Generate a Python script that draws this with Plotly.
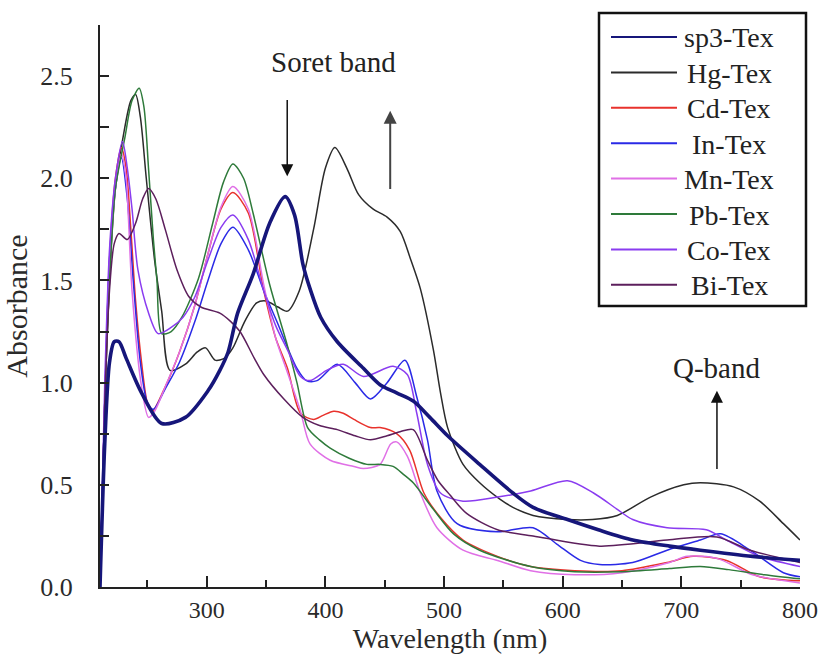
import plotly.graph_objects as go

# UV-Vis absorption spectra of the free ligand and its metal complexes
names = ["sp3-Tex", "Hg-Tex", "Cd-Tex", "In-Tex", "Mn-Tex", "Pb-Tex", "Co-Tex", "Bi-Tex"]
colors = ["#16167a", "#2b2b2b", "#e8322c", "#2a2ae6", "#e070e6", "#2e7a3a", "#8a3cf0", "#5c1f5c"]
widths = [3.6, 1.5, 1.5, 1.5, 1.5, 1.5, 1.5, 1.5]

wl_sp3 = [210, 214, 218, 222, 226, 232, 245, 262, 282, 301, 311, 318, 326, 339, 353, 366, 374,
          381, 387, 396, 410, 432, 446, 460, 474, 488, 503, 530, 558, 575, 604, 630, 659, 690,
          716, 760, 800]
ab_sp3 = [0.0, 0.7, 1.1, 1.2, 1.2, 1.12, 0.95, 0.80, 0.83, 0.96, 1.06, 1.15, 1.34, 1.53, 1.78,
          1.91, 1.82, 1.58, 1.46, 1.32, 1.20, 1.07, 0.99, 0.95, 0.91, 0.83, 0.74, 0.60, 0.46,
          0.39, 0.33, 0.28, 0.23, 0.20, 0.18, 0.15, 0.13]

wl_hg = [210, 214, 218, 223, 230, 236, 240, 244, 249, 256, 262, 269, 282, 292, 299, 307, 315,
         322, 332, 342, 350, 360, 368, 378, 390, 400, 408, 418, 428, 440, 452, 463, 472, 480,
         491, 497, 503, 516, 530, 547, 558, 575, 604, 625, 646, 674, 702, 716, 744, 766, 786, 800]
ab_hg = [0.0, 0.9, 1.5, 1.95, 2.22, 2.38, 2.41, 2.3, 2.0, 1.6, 1.35, 1.06, 1.09, 1.15, 1.17,
         1.11, 1.12, 1.17, 1.3, 1.39, 1.40, 1.37, 1.35, 1.45, 1.75, 2.05, 2.15, 2.05, 1.92,
         1.85, 1.81, 1.74, 1.6, 1.46, 1.16, 0.95, 0.78, 0.60, 0.51, 0.43, 0.39, 0.35, 0.33,
         0.33, 0.35, 0.44, 0.50, 0.51, 0.49, 0.42, 0.31, 0.23]

wl_cd = [210, 214, 218, 223, 228, 232, 236, 240, 245, 250, 254, 265, 277, 290, 301, 312, 322,
         335, 348, 358, 368, 379, 390, 398, 407, 415, 424, 438, 446, 460, 471, 483, 497, 516,
         545, 573, 610, 650, 688, 710, 738, 766, 800]
ab_cd = [0.0, 0.9, 1.6, 2.0, 2.15, 2.05, 1.75, 1.4, 1.1, 0.9, 0.86, 0.98, 1.15, 1.38, 1.63,
         1.85, 1.93, 1.83, 1.45, 1.22, 1.07, 0.85, 0.82, 0.84, 0.86, 0.85, 0.82, 0.78, 0.78,
         0.75, 0.67, 0.46, 0.34, 0.23, 0.15, 0.10, 0.08, 0.08, 0.12, 0.15, 0.13, 0.05, 0.03]

wl_in = [210, 214, 218, 223, 228, 233, 238, 244, 250, 255, 265, 277, 290, 301, 312, 322, 335,
         348, 359, 376, 384, 393, 410, 425, 438, 452, 467, 477, 486, 494, 511, 545, 575, 595,
         615, 631, 659, 688, 716, 733, 758, 786, 800]
ab_in = [0.0, 0.9, 1.6, 1.95, 2.1, 1.9, 1.5, 1.1, 0.9, 0.87, 0.97, 1.1, 1.3, 1.5, 1.68, 1.76,
         1.65, 1.45, 1.30, 1.07, 1.01, 1.01, 1.09, 1.0, 0.92, 1.0, 1.11, 0.93, 0.72, 0.47,
         0.31, 0.27, 0.29, 0.21, 0.13, 0.11, 0.12, 0.18, 0.23, 0.26, 0.18, 0.07, 0.05]

wl_mn = [210, 214, 218, 223, 228, 232, 234, 237, 245, 251, 256, 265, 277, 290, 301, 312, 322,
         335, 348, 358, 368, 379, 387, 404, 424, 432, 446, 455, 460, 469, 480, 494, 516, 545,
         573, 610, 650, 690, 705, 730, 760, 800]
ab_mn = [0.0, 0.9, 1.55, 1.95, 2.12, 2.0, 1.8, 1.45, 0.98, 0.83, 0.86, 0.98, 1.15, 1.38, 1.63,
         1.86, 1.96, 1.85, 1.48, 1.22, 1.05, 0.86, 0.70, 0.62, 0.59, 0.58, 0.60, 0.70, 0.71,
         0.64, 0.46, 0.29, 0.18, 0.13, 0.08, 0.06, 0.07, 0.12, 0.15, 0.14, 0.06, 0.02]

wl_pb = [210, 214, 218, 223, 231, 237, 243, 247, 251, 255, 258, 262, 270, 279, 293, 305, 314,
         322, 331, 339, 353, 368, 376, 385, 395, 404, 420, 435, 446, 457, 466, 474, 491, 508,
         530, 573, 610, 650, 690, 716, 740, 770, 800]
ab_pb = [0.0, 0.9, 1.5, 1.95, 2.2, 2.38, 2.44, 2.35, 2.04, 1.7, 1.5, 1.24, 1.25, 1.32, 1.51,
         1.78, 1.98, 2.07, 2.0, 1.83, 1.48, 1.18, 1.0, 0.78, 0.72, 0.68, 0.63, 0.60, 0.60,
         0.59, 0.55, 0.51, 0.38, 0.26, 0.18, 0.10, 0.075, 0.075, 0.09, 0.10, 0.085, 0.06, 0.04]

wl_co = [210, 214, 218, 223, 229, 233, 237, 242, 251, 259, 270, 280, 290, 301, 312, 322, 335,
         348, 358, 368, 379, 387, 401, 415, 432, 457, 469, 477, 486, 497, 516, 545, 573, 604,
         626, 646, 659, 688, 721, 738, 766, 800]
ab_co = [0.0, 1.0, 1.65, 2.0, 2.18, 2.05, 1.85, 1.55, 1.34, 1.24, 1.27, 1.32, 1.42, 1.6, 1.76,
         1.82, 1.70, 1.45, 1.28, 1.16, 1.03, 1.01, 1.06, 1.09, 1.03, 1.08, 1.04, 0.85, 0.60,
         0.46, 0.42, 0.44, 0.47, 0.52, 0.46, 0.38, 0.33, 0.29, 0.28, 0.23, 0.15, 0.10]

wl_bi = [210, 214, 218, 222, 226, 233, 240, 246, 251, 257, 265, 275, 285, 295, 311, 320, 328,
         340, 348, 365, 381, 395, 410, 425, 438, 452, 463, 474, 486, 495, 505, 519, 545, 575,
         631, 688, 730, 758, 800]
ab_bi = [0.0, 0.9, 1.45, 1.68, 1.73, 1.70, 1.78, 1.9, 1.95, 1.9, 1.75, 1.55, 1.42, 1.37, 1.34,
         1.3, 1.25, 1.12, 1.04, 0.92, 0.83, 0.79, 0.77, 0.74, 0.72, 0.74, 0.76, 0.77, 0.62,
         0.52, 0.45, 0.36, 0.28, 0.25, 0.20, 0.23, 0.245, 0.18, 0.12]

wavelengths = [wl_sp3, wl_hg, wl_cd, wl_in, wl_mn, wl_pb, wl_co, wl_bi]
absorbances = [ab_sp3, ab_hg, ab_cd, ab_in, ab_mn, ab_pb, ab_co, ab_bi]

x_major = [300, 400, 500, 600, 700, 800]
y_major = [0.0, 0.5, 1.0, 1.5, 2.0, 2.5]

FONT = "Liberation Serif"
TXT = "#2a2a2a"

fig = go.Figure()
# thin curves first, the free ligand (thick) drawn on top
order = [1, 2, 3, 4, 5, 6, 7, 0]
for i in order:
    fig.add_trace(go.Scatter(
        x=wavelengths[i], y=absorbances[i], mode="lines", name=names[i],
        line=dict(color=colors[i], width=widths[i], shape="spline", smoothing=0.8),
        showlegend=False,
    ))

fig.update_layout(
    width=820, height=656,
    margin=dict(l=100, r=20, t=25, b=69),
    paper_bgcolor="white", plot_bgcolor="white",
    font=dict(family=FONT, color=TXT, size=18),
)

fig.update_xaxes(
    range=[210, 800], showgrid=False, zeroline=False, automargin=False,
    showline=True, linecolor="#222222", linewidth=2,
    tickmode="array", tickvals=x_major, ticktext=[str(v) for v in x_major],
    ticks="inside", ticklen=11, tickwidth=1.5, tickcolor="#222222",
    minor=dict(tickvals=[250, 350, 450, 550, 650, 750], ticks="inside", ticklen=7,
               tickwidth=1.5, tickcolor="#222222"),
    ticklabelstandoff=0,
    tickfont=dict(family=FONT, size=24, color=TXT),
    title=dict(text="Wavelength (nm)", font=dict(family=FONT, size=28, color=TXT),
               standoff=2),
)
fig.update_yaxes(
    range=[0, 2.75], showgrid=False, zeroline=False, automargin=False,
    showline=True, linecolor="#222222", linewidth=2,
    tickmode="array", tickvals=y_major, ticktext=[f"{v:.1f}" for v in y_major],
    ticks="inside", ticklen=9, tickwidth=1.5, tickcolor="#222222",
    minor=dict(tickvals=[0.25, 0.75, 1.25, 1.75, 2.25, 2.75], ticks="inside", ticklen=9,
               tickwidth=1.5, tickcolor="#222222"),
    ticklabelstandoff=20,
    tickfont=dict(family=FONT, size=26, color=TXT),
    title=dict(text="Absorbance", font=dict(family=FONT, size=30, color=TXT),
               standoff=14),
)

# band labels and arrows
fig.add_annotation(x=407, y=2.57, text="Soret band", showarrow=False,
                   font=dict(family=FONT, size=29, color="#222222"))
fig.add_annotation(x=367.8, y=2.01, ax=367.8, ay=2.39, xref="x", yref="y",
                   axref="x", ayref="y", text="", showarrow=True, arrowhead=2,
                   arrowsize=1.6, arrowwidth=1.5, arrowcolor="#111111")
fig.add_annotation(x=454.6, y=2.33, ax=454.6, ay=1.94, xref="x", yref="y",
                   axref="x", ayref="y", text="", showarrow=True, arrowhead=2,
                   arrowsize=1.3, arrowwidth=2, arrowcolor="#444444")
fig.add_annotation(x=730, y=1.07, text="Q-band", showarrow=False,
                   font=dict(family=FONT, size=29, color="#222222"))
fig.add_annotation(x=730, y=0.96, ax=730, ay=0.57, xref="x", yref="y",
                   axref="x", ayref="y", text="", showarrow=True, arrowhead=2,
                   arrowsize=1.6, arrowwidth=1.5, arrowcolor="#111111")

# boxed legend in the upper right corner
PW, PH, L, B = 700.0, 562.0, 100.0, 587.0


def px_x(p):
    return (p - L) / PW


def px_y(p):
    return (B - p) / PH


fig.add_shape(type="rect", xref="paper", yref="paper",
              x0=px_x(599), x1=px_x(806), y0=px_y(306), y1=px_y(13),
              line=dict(color="#111111", width=2.5), fillcolor="white", layer="above")
for k, name in enumerate(names):
    row = 37 + k * 35.4
    fig.add_shape(type="line", xref="paper", yref="paper",
                  x0=px_x(611), x1=px_x(677), y0=px_y(row), y1=px_y(row),
                  line=dict(color=colors[k], width=2.2 if k == 0 else 2), layer="above")
    fig.add_annotation(xref="paper", yref="paper", x=px_x(729), y=px_y(row + 1),
                       text=name, showarrow=False, xanchor="center", yanchor="middle",
                       font=dict(family=FONT, size=28, color="#222222"))

fig.write_html("out.html")
